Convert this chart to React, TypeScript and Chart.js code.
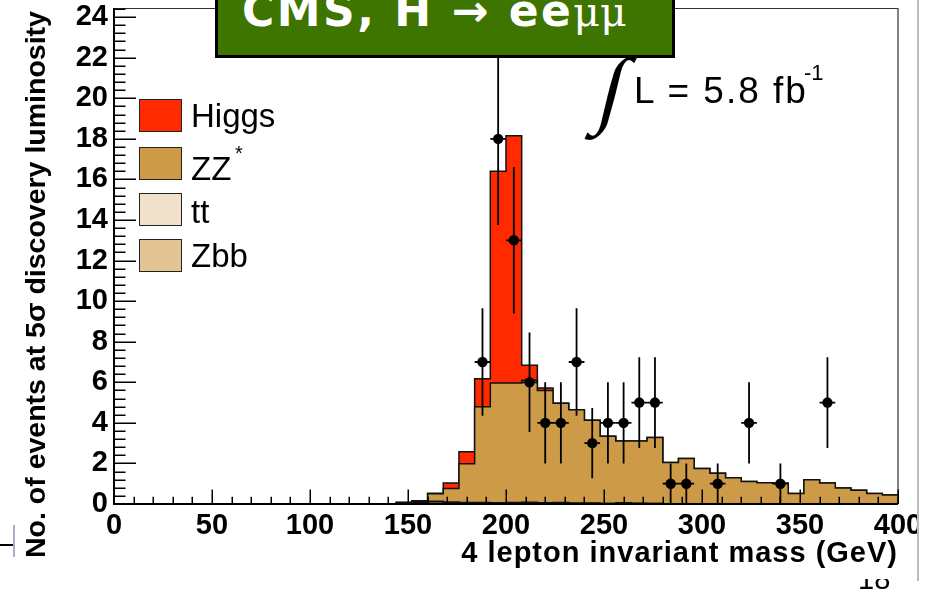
import React, { useEffect, useRef } from "react";
import { Chart, registerables } from "chart.js";

Chart.register(...registerables);

// ---- data (8 GeV bins from 0 to 400 GeV) ----
const binLow = [
  0, 8, 16, 24, 32, 40, 48, 56, 64, 72, 80, 88, 96, 104, 112, 120, 128, 136, 144, 152,
  160, 168, 176, 184, 192, 200, 208, 216, 224, 232, 240, 248, 256, 264, 272, 280, 288, 296, 304, 312,
  320, 328, 336, 344, 352, 360, 368, 376, 384, 392,
];
const massMax = 400;

const zbbBkg = [
  0, 0, 0, 0, 0, 0, 0, 0, 0, 0, 0, 0, 0, 0, 0, 0, 0, 0, 0.06, 0.08,
  0.05, 0.06, 0.05, 0.05, 0.04, 0.05, 0.06, 0.04, 0.05, 0.03, 0.03, 0.02, 0.04, 0.03, 0.02, 0, 0, 0, 0, 0,
  0, 0, 0, 0, 0, 0, 0, 0, 0, 0,
];
const ttBkg = [
  0, 0, 0, 0, 0, 0, 0, 0, 0, 0, 0, 0, 0, 0, 0, 0, 0, 0, 0.02, 0.04,
  0.08, 0.04, 0.03, 0.03, 0.02, 0.03, 0.03, 0.02, 0.02, 0.02, 0.02, 0.01, 0.02, 0.01, 0.01, 0, 0, 0, 0, 0,
  0, 0, 0, 0, 0, 0, 0, 0, 0, 0,
];
const zzBkg = [
  0, 0, 0, 0, 0, 0, 0, 0, 0, 0, 0, 0, 0, 0, 0, 0, 0, 0, 0, 0.04,
  0.37, 0.67, 1.9, 4.71, 5.91, 5.89, 6.01, 5.54, 4.9, 4.59, 4.08, 3.31, 3.04, 3.06, 3.25, 2.05, 2.24, 1.75, 1.51, 1.3,
  1.11, 1.05, 1.02, 0.52, 1.19, 1.04, 0.79, 0.68, 0.52, 0.44,
];
const higgsSig = [
  0, 0, 0, 0, 0, 0, 0, 0, 0, 0, 0, 0, 0, 0, 0, 0, 0, 0, 0, 0,
  0.03, 0.26, 0.59, 1.39, 10.43, 12.18, 0.74, 0.12, 0, 0, 0, 0, 0, 0, 0, 0, 0, 0, 0, 0,
  0, 0, 0, 0, 0, 0, 0, 0, 0, 0,
];

const obsMass = [188, 196, 204, 212, 220, 228, 236, 244, 252, 260, 268, 276, 284, 292, 308, 324, 340, 364];
const obsCount = [7, 18, 13, 6, 4, 4, 7, 3, 4, 4, 5, 5, 1, 1, 1, 4, 1, 5];
const obsHalfWidth = 4;

const yMax = 24.45;
const xMajorStep = 50;
const xMinorStep = 10;
const yMajorStep = 2;
const yMinorStep = 0.4;

const legendItems = [
  { label: "Higgs", color: "#ff2a00" },
  { label: "ZZ", sup: "*", color: "#cd9a47" },
  { label: "tt", color: "#f1e1cb" },
  { label: "Zbb", color: "#e3c495" },
];

const SANS = "'Liberation Sans', Arial, Helvetica, sans-serif";

function cumulative(a: number[], b: number[]) {
  return a.map((v, i) => v + b[i]);
}
function stepData(vals: number[]) {
  const pts = binLow.map((x, i) => ({ x, y: vals[i] }));
  pts.push({ x: massMax, y: 0 });
  return pts;
}

const rootAxes = {
  id: "rootAxes",
  afterDatasetsDraw(chart: any) {
    const { ctx, chartArea: a } = chart;
    const xs = chart.scales.x;
    const ys = chart.scales.y;
    ctx.save();
    // frame (top, right)
    ctx.strokeStyle = "#333";
    ctx.lineWidth = 1.2;
    ctx.beginPath();
    ctx.moveTo(a.left, a.top + 0.5);
    ctx.lineTo(a.right, a.top + 0.5);
    ctx.lineTo(a.right, a.bottom);
    ctx.stroke();
    // error bars
    ctx.strokeStyle = "#000";
    ctx.lineWidth = 1.8;
    obsMass.forEach((m, i) => {
      const n = obsCount[i];
      const e = Math.sqrt(n);
      const px = xs.getPixelForValue(m);
      const py = ys.getPixelForValue(n);
      ctx.beginPath();
      ctx.moveTo(px, ys.getPixelForValue(n + e));
      ctx.lineTo(px, ys.getPixelForValue(Math.max(n - e, 0)));
      ctx.moveTo(xs.getPixelForValue(m - obsHalfWidth), py);
      ctx.lineTo(xs.getPixelForValue(m + obsHalfWidth), py);
      ctx.stroke();
    });
    // axes
    ctx.strokeStyle = "#000";
    ctx.lineWidth = 2;
    ctx.beginPath();
    ctx.moveTo(a.left, a.top);
    ctx.lineTo(a.left, a.bottom);
    ctx.lineTo(a.right, a.bottom);
    ctx.stroke();
    // inward ticks
    ctx.lineWidth = 1.5;
    ctx.beginPath();
    const nY = Math.floor(yMax / yMinorStep + 1e-6);
    for (let i = 0; i <= nY; i++) {
      const v = i * yMinorStep;
      const py = Math.round(ys.getPixelForValue(v)) + 0.25;
      const major = Math.abs(v / yMajorStep - Math.round(v / yMajorStep)) < 1e-6;
      const len = major ? 22 : 11.5;
      ctx.moveTo(a.left, py);
      ctx.lineTo(a.left + len, py);
    }
    const nX = Math.round(massMax / xMinorStep);
    for (let i = 0; i <= nX; i++) {
      const v = i * xMinorStep;
      const px = Math.round(xs.getPixelForValue(v)) + 0.25;
      const major = v % xMajorStep === 0;
      const len = major ? 14.5 : 7.3;
      ctx.moveTo(px, a.bottom);
      ctx.lineTo(px, a.bottom - len);
    }
    ctx.stroke();
    ctx.restore();
  },
};

function Txt(props: { x: number; base: number; size: number; children: any; style?: any; family?: string }) {
  const { x, base, size, children, style, family } = props;
  return (
    <div
      style={{
        position: "absolute",
        left: x,
        top: base - 0.8465 * size,
        fontSize: size,
        lineHeight: size + "px",
        fontFamily: family || SANS,
        whiteSpace: "nowrap",
        color: "#000",
        ...style,
      }}
    >
      {children}
    </div>
  );
}

export default function App() {
  const ref = useRef<HTMLCanvasElement | null>(null);

  useEffect(() => {
    if (!ref.current) return;
    const cumTt = cumulative(zbbBkg, ttBkg);
    const cumZz = cumulative(cumTt, zzBkg);
    const cumH = cumulative(cumZz, higgsSig);
    const lineBase = {
      type: "line" as const,
      stepped: "before" as const,
      borderColor: "#111",
      borderWidth: 1.5,
      pointRadius: 0,
      fill: "origin",
    };
    const tickFont = { family: SANS, size: 29, weight: "bold" as const };
    const chart = new Chart(ref.current, {
      type: "line",
      data: {
        datasets: [
          {
            type: "line",
            label: "Data",
            data: obsMass.map((m, i) => ({ x: m, y: obsCount[i] })),
            showLine: false,
            pointRadius: 5.2,
            pointBackgroundColor: "#000",
            pointBorderColor: "#000",
            pointBorderWidth: 0,
            fill: false,
          } as any,
          { ...lineBase, label: "Zbb", data: stepData(zbbBkg), backgroundColor: legendItems[3].color } as any,
          { ...lineBase, label: "tt", data: stepData(cumTt), backgroundColor: legendItems[2].color } as any,
          { ...lineBase, label: "ZZ*", data: stepData(cumZz), backgroundColor: legendItems[1].color } as any,
          { ...lineBase, label: "Higgs", data: stepData(cumH), backgroundColor: legendItems[0].color } as any,
        ],
      },
      options: {
        animation: false,
        responsive: false,
        devicePixelRatio: 1,
        layout: { padding: { left: 0, right: 42, top: 8, bottom: 0 } },
        plugins: { legend: { display: false }, tooltip: { enabled: false } },
        scales: {
          x: {
            type: "linear",
            min: 0,
            max: massMax,
            afterFit: (s: any) => {
              s.height = 89;
              s.paddingLeft = 0;
              s.paddingRight = 0;
            },
            ticks: {
              stepSize: xMajorStep,
              font: tickFont,
              color: "#000",
              padding: 5,
              maxRotation: 0,
              autoSkip: false,
            },
            grid: { display: false, drawTicks: false },
            border: { display: false },
          },
          y: {
            type: "linear",
            min: 0,
            max: yMax,
            afterFit: (s: any) => {
              s.width = 114;
              s.paddingTop = 0;
              s.paddingBottom = 0;
            },
            ticks: {
              stepSize: yMajorStep,
              includeBounds: false,
              font: tickFont,
              color: "#000",
              padding: 6,
              autoSkip: false,
            },
            grid: { display: false, drawTicks: false },
            border: { display: false },
          },
        },
      } as any,
      plugins: [rootAxes],
    });
    return () => chart.destroy();
  }, []);

  const legendTop = [99, 147, 193, 239];
  const legendBase = [126.7, 180, 223.3, 266.7];

  return (
    <div
      style={{
        position: "fixed",
        left: 0,
        top: 0,
        width: 940,
        height: 593,
        background: "#fff",
        overflow: "hidden",
      }}
    >
      <canvas ref={ref} width={940} height={593} style={{ position: "absolute", left: 0, top: 0, width: 940, height: 593 }} />

      {/* right slide edge */}
      <div style={{ position: "absolute", left: 919, top: 0, width: 21, height: 593, background: "#fff" }} />
      <div style={{ position: "absolute", left: 917, top: 0, width: 2, height: 581, background: "#bcbcbc" }} />

      {/* page number, mostly hidden */}
      <div style={{ position: "absolute", left: 850, top: 579, width: 60, height: 14, overflow: "hidden" }}>
        <Txt x={8} base={11} size={29}>18</Txt>
      </div>

      {/* left artefact */}
      <div style={{ position: "absolute", left: 0, top: 544, width: 13, height: 2, background: "#000" }} />
      <div style={{ position: "absolute", left: 13, top: 525, width: 2, height: 32, background: "#aab0c8" }} />

      {/* y axis title */}
      <div
        style={{
          position: "absolute",
          left: 21,
          top: 558,
          transformOrigin: "left top",
          transform: "rotate(-90deg)",
          fontFamily: SANS,
          fontWeight: "bold",
          fontSize: 28.5,
          lineHeight: "28.5px",
          whiteSpace: "nowrap",
          color: "#000",
        }}
      >
        No. of events at 5σ discovery luminosity
      </div>

      {/* x axis title */}
      <div
        style={{
          position: "absolute",
          right: 42,
          top: 563 - 0.8465 * 29,
          fontFamily: SANS,
          fontWeight: "bold",
          fontSize: 29,
          lineHeight: "29px",
          letterSpacing: 1,
          whiteSpace: "nowrap",
          color: "#000",
        }}
      >
        4 lepton invariant mass (GeV)
      </div>

      {/* legend */}
      {legendItems.map((it, i) => (
        <div
          key={it.label}
          style={{
            position: "absolute",
            left: 139,
            top: legendTop[i],
            width: 43,
            height: 33,
            boxSizing: "border-box",
            border: "1.5px solid #222",
            background: it.color,
          }}
        />
      ))}
      {legendItems.map((it, i) => (
        <Txt key={"t" + it.label} x={191} base={legendBase[i]} size={33}>
          {it.label}
        </Txt>
      ))}
      <Txt x={235} base={160} size={20}>*</Txt>

      {/* luminosity */}
      <Txt
        x={591}
        base={118}
        size={86}
        family="'Liberation Serif', 'DejaVu Serif', serif"
        style={{ fontWeight: "bold", transform: "skewX(-14deg)", transformOrigin: "left bottom" }}
      >
        ∫
      </Txt>
      <Txt x={634} base={103} size={37} style={{ letterSpacing: 2 }}>L = 5.8 fb</Txt>
      <Txt x={804} base={81} size={22}>-1</Txt>

      {/* title box */}
      <div
        style={{
          position: "absolute",
          left: 215,
          top: -10,
          width: 460,
          height: 68,
          boxSizing: "border-box",
          border: "3px solid #000",
          background: "#3e7400",
        }}
      />
      <div
        style={{
          position: "absolute",
          left: 242,
          top: 26 - 0.8465 * 44,
          lineHeight: "44px",
          whiteSpace: "nowrap",
          color: "#fff",
        }}
      >
        <span style={{ fontFamily: "'DejaVu Sans', sans-serif", fontWeight: "bold", fontSize: 44, letterSpacing: 2.5 }}>
          CMS, H → ee
        </span>
        <span style={{ fontFamily: "'DejaVu Serif', serif", fontSize: 41 }}>μμ</span>
      </div>
    </div>
  );
}
